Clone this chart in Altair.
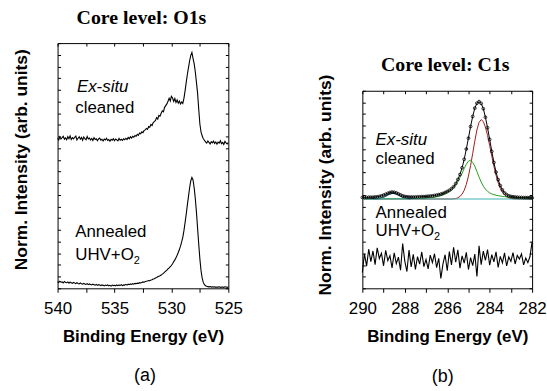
import altair as alt
import pandas as pd

# ---------------- data ----------------
# O1s panel: energy grid 540.0 -> 525.0 eV, 0.1 eV step
o1s_start = 540.0
o1s_step = 0.1
o1s_exsitu = [
    61.2, 60.5, 61.8, 60.9, 61.5, 62.0, 60.8, 61.3, 60.6, 61.9,
    61.0, 62.2, 60.7, 61.4, 60.9, 61.6, 62.1, 60.5, 61.2, 61.8,
    60.8, 61.5, 60.4, 61.7, 61.0, 60.6, 61.9, 60.9, 61.3, 60.5,
    61.1, 60.3, 61.4, 60.7, 61.0, 60.2, 60.9, 61.3, 60.4, 60.8,
    60.1, 60.9, 60.5, 61.2, 60.3, 60.7, 60.0, 60.8, 60.4, 61.0,
    60.2, 60.9, 60.5, 60.1, 61.1, 60.4, 60.8, 60.3, 61.0, 60.6,
    61.2, 60.7, 61.5, 61.0, 61.8, 61.3, 62.0, 61.6, 62.3, 62.0,
    62.8, 62.4, 63.3, 63.0, 63.8, 63.5, 64.4, 64.6, 65.2, 64.8,
    66.0, 65.7, 66.8, 66.4, 67.6, 68.0, 68.5, 69.6, 69.0, 70.5,
    70.2, 71.4, 72.4, 72.0, 73.8, 74.5, 75.2, 76.3, 77.5, 76.4,
    78.3, 77.6, 76.2, 77.4, 75.8, 76.8, 75.5, 76.4, 75.2, 76.0,
    75.4, 77.5, 80.5, 84.0, 87.2, 90.0, 92.8, 95.0, 96.2, 93.8,
    91.5, 88.2, 84.0, 79.5, 73.0, 67.0, 63.8, 62.2, 61.0, 60.4,
    59.7, 59.2, 60.1, 59.5, 58.9, 59.8, 59.3, 60.0, 59.1, 59.7,
    58.8, 59.6, 59.2, 60.2, 59.0, 59.5, 58.7, 59.9, 59.3, 58.9,
    59.4,
]
o1s_annealed = [
    2.7, 2.4, 2.9, 2.5, 2.6, 2.2, 2.8, 2.4, 2.3, 2.6,
    2.1, 2.5, 2.3, 2.0, 2.4, 2.2, 1.9, 2.3, 2.0, 1.8,
    2.2, 1.9, 1.7, 2.0, 1.8, 1.6, 1.9, 1.5, 1.8, 1.6,
    1.4, 1.7, 1.5, 1.3, 1.6, 1.2, 1.5, 1.3, 1.1, 1.4,
    1.2, 1.0, 1.3, 1.1, 1.4, 1.0, 1.2, 0.9, 1.3, 1.1,
    1.2, 1.0, 1.4, 1.1, 1.3, 1.2, 1.5, 1.1, 1.4, 1.3,
    1.6, 1.3, 1.7, 1.5, 1.8, 1.6, 1.9, 1.7, 2.0, 1.9,
    2.1, 2.0, 2.3, 2.2, 2.4, 2.6, 2.5, 2.8, 2.9, 3.0,
    3.2, 3.1, 3.4, 3.5, 3.8, 3.9, 4.2, 4.4, 4.7, 4.9,
    5.1, 5.4, 5.8, 6.1, 6.6, 7.0, 7.4, 7.9, 8.3, 8.8,
    9.3, 10.0, 10.8, 11.6, 12.5, 13.5, 14.6, 15.8, 17.2, 18.9,
    20.8, 23.5, 26.8, 30.2, 34.0, 37.5, 41.0, 43.8, 45.2, 44.2,
    41.0, 36.5, 31.0, 24.5, 18.0, 12.0, 7.3, 4.2, 2.4, 1.5,
    1.0, 0.8, 0.7, 0.6, 0.7, 0.5, 0.6, 0.5, 0.6, 0.4,
    0.5, 0.5, 0.6, 0.4, 0.5, 0.5, 0.4, 0.6, 0.5, 0.4,
    0.5,
]

# C1s panel: energy grid 290.0 -> 282.0 eV, 0.1 eV step
c1s_start = 290.0
c1s_step = 0.1
c1s_exsitu_data = [
    46.0, 46.0, 46.0, 46.1, 46.1, 46.1, 46.2, 46.3, 46.5, 46.8,
    47.2, 47.6, 48.1, 48.5, 48.7, 48.6, 48.3, 47.8, 47.3, 46.8,
    46.5, 46.3, 46.2, 46.2, 46.2, 46.2, 46.3, 46.3, 46.4, 46.4,
    46.5, 46.6, 46.7, 46.8, 47.0, 47.2, 47.4, 47.7, 48.0, 48.5,
    49.0, 49.6, 50.4, 51.4, 53.0, 55.1, 57.6, 61.0, 65.3, 70.5,
    76.0, 81.9, 87.0, 91.2, 93.7, 94.5, 93.6, 90.9, 86.6, 81.3,
    75.4, 69.3, 63.7, 58.8, 55.0, 52.0, 49.8, 48.3, 47.4, 46.8,
    46.5, 46.3, 46.2, 46.1, 46.0, 46.0, 45.9, 45.9, 45.9, 45.8,
    45.8,
]
c1s_comp_red = [
    45.2, 45.2, 45.2, 45.2, 45.2, 45.2, 45.2, 45.2, 45.2, 45.2,
    45.2, 45.2, 45.2, 45.2, 45.2, 45.2, 45.2, 45.2, 45.2, 45.2,
    45.2, 45.2, 45.2, 45.2, 45.2, 45.2, 45.2, 45.2, 45.2, 45.2,
    45.2, 45.2, 45.2, 45.2, 45.2, 45.2, 45.2, 45.2, 45.2, 45.2,
    45.2, 45.2, 45.2, 45.3, 45.4, 45.8, 46.5, 47.7, 49.6, 52.6,
    56.8, 62.1, 68.3, 74.6, 80.2, 84.0, 85.4, 84.4, 81.6, 77.4,
    72.3, 66.9, 61.7, 57.2, 53.5, 50.6, 48.6, 47.2, 46.3, 45.8,
    45.5, 45.3, 45.2, 45.2, 45.2, 45.2, 45.2, 45.2, 45.2, 45.2,
    45.2,
]
c1s_comp_green = [
    45.3, 45.3, 45.3, 45.3, 45.3, 45.3, 45.3, 45.3, 45.3, 45.3,
    45.4, 45.4, 45.4, 45.4, 45.4, 45.4, 45.4, 45.4, 45.4, 45.4,
    45.4, 45.4, 45.5, 45.5, 45.5, 45.5, 45.5, 45.5, 45.6, 45.6,
    45.6, 45.7, 45.8, 45.9, 46.1, 46.3, 46.6, 46.9, 47.3, 47.8,
    48.3, 49.0, 49.8, 50.8, 52.2, 53.9, 56.0, 58.2, 60.6, 62.8,
    64.4, 64.8, 63.8, 61.8, 59.1, 56.3, 53.8, 51.7, 50.2, 49.1,
    48.3, 47.8, 47.4, 47.1, 46.9, 46.7, 46.5, 46.4, 46.3, 46.2,
    46.1, 46.0, 45.9, 45.8, 45.8, 45.7, 45.7, 45.6, 45.6, 45.6,
    45.5,
]
c1s_bump_start = 289.5
c1s_comp_bump = [
    45.2, 45.3, 45.3, 45.5, 45.7, 46.1, 46.6, 47.2, 47.7, 48.0,
    48.0, 47.7, 47.2, 46.6, 46.1, 45.7, 45.5, 45.3, 45.2,
]
c1s_background = 45.2
c1s_annealed = [
    8.0, 17.5, 11.2, 19.8, 13.5, 18.9, 12.0, 20.5, 15.1, 17.8,
    11.4, 19.2, 14.0, 16.5, 10.3, 18.0, 12.5, 15.8, 9.2, 22.6,
    13.8, 8.5, 19.4, 10.8, 17.2, 9.6, 16.0, 12.2, 18.4, 11.0,
    14.6, 9.8, 16.8, 13.0, 17.5, 10.5, 15.2, 5.0, 12.4, 17.0,
    8.9, 18.6, 11.8, 20.8, 13.2, 19.5, 10.2, 16.4, 12.8, 18.2,
    9.5, 15.5, 11.5, 17.3, 6.0, 21.5, 12.0, 18.8, 14.2, 19.6,
    11.7, 17.0, 13.4, 18.5, 10.6, 16.2, 12.9, 17.9, 11.3, 15.9,
    13.6, 18.1, 12.3, 16.6, 14.8, 17.4, 11.9, 15.3, 13.0, 16.1,
    23.5,
]

o1s_tick_values = [525, 527.5, 530, 532.5, 535, 537.5, 540]
c1s_tick_values = [282, 283, 284, 285, 286, 287, 288, 289, 290]

o1s_title = "Core level: O1s"
c1s_title = "Core level: C1s"
o1s_tag = "(a)"
c1s_tag = "(b)"
o1s_labels_italic = ["Ex-situ"]
o1s_labels_plain = ["cleaned", "Annealed", "UHV+O"]
c1s_labels_italic = ["Ex-situ"]
c1s_labels_plain = ["cleaned", "Annealed", "UHV+O"]

# ---------------- frames ----------------
def grid(start, step, n):
    return [round(start - step * i, 2) for i in range(n)]

df_o1s = pd.DataFrame({
    "E": grid(o1s_start, o1s_step, len(o1s_exsitu)),
    "exsitu": o1s_exsitu,
    "annealed": o1s_annealed,
})
df_c1s = pd.DataFrame({
    "E": grid(c1s_start, c1s_step, len(c1s_exsitu_data)),
    "data": c1s_exsitu_data,
    "red": c1s_comp_red,
    "green": c1s_comp_green,
    "annealed": c1s_annealed,
})
df_bump = pd.DataFrame({
    "E": grid(c1s_bump_start, c1s_step, len(c1s_comp_bump)),
    "bump": c1s_comp_bump,
})

# annotation anchors (data coordinates)
o1s_lab_it = pd.DataFrame({"t": o1s_labels_italic, "x": [538.3], "y": [80.2]})
o1s_lab_pl = pd.DataFrame({"t": o1s_labels_plain, "x": [538.45, 538.45, 538.45], "y": [71.4, 20.8, 11.6]})
c1s_lab_it = pd.DataFrame({"t": c1s_labels_italic, "x": [289.38], "y": [72.7]})
c1s_lab_pl = pd.DataFrame({"t": c1s_labels_plain, "x": [289.38, 289.38, 289.38], "y": [62.8, 35.8, 26.6]})

# ---------------- styling helpers ----------------
SANS = "Liberation Sans"
SERIF = "Liberation Serif"
W1, H1 = 172, 247
W2, H2 = 171, 199
GAP = 48
yt_left = [round(100 * k / 21, 4) for k in range(22)]
yt_right = [round(100 * k / 17, 4) for k in range(18)]


def bottom_axis(values, expr):
    return alt.Axis(orient="bottom", values=values, labelExpr=expr, format=".0f",
                    domain=False, ticks=True, tickSize=4, tickColor="black", tickWidth=1,
                    labelFont=SANS, labelFontSize=17, labelColor="black", labelPadding=8,
                    labelFlush=False, labelOverlap=False, grid=False,
                    title="Binding Energy (eV)", titleFont=SANS, titleFontSize=17,
                    titleFontWeight="bold", titleColor="black", titlePadding=13)


def top_ticks(values):
    return alt.Axis(orient="top", values=values, offset=-3, tickSize=3, tickColor="black",
                    labels=False, domain=False, grid=False, title=None)


def side_ticks(orient, values):
    return alt.Axis(orient=orient, values=values, offset=-3, tickSize=3, tickColor="black",
                    labels=False, domain=False, grid=False, title=None)


def ytitle_axis(tx, ty):
    return alt.Axis(orient="left", ticks=False, labels=False, domain=False, grid=False,
                    title="Norm. Intensity (arb. units)", titleFont=SANS, titleFontSize=17.5,
                    titleFontWeight="bold", titleColor="black", titleX=tx, titleY=ty,
                    titleAngle=270, titleAlign="center", titleBaseline="middle")


def text_layers(df_it, df_pl, xs, ys, yticks):
    it = alt.Chart(df_it).mark_text(font=SANS, fontSize=17, fontStyle="italic", align="left",
                                    baseline="alphabetic", color="black").encode(
        x=alt.X("x:Q", scale=xs, axis=None),
        y=alt.Y("y:Q", scale=ys, axis=side_ticks("left", yticks)),
        text="t:N")
    pl = alt.Chart(df_pl).mark_text(font=SANS, fontSize=17, align="left",
                                    baseline="alphabetic", color="black").encode(
        x=alt.X("x:Q", scale=xs, axis=None),
        y=alt.Y("y:Q", scale=ys, axis=None),
        text="t:N")
    sub = alt.Chart(df_pl.iloc[[2]]).mark_text(font=SANS, fontSize=11, align="left",
                                               baseline="alphabetic", color="black",
                                               dx=59, dy=4).encode(
        x=alt.X("x:Q", scale=xs, axis=None),
        y=alt.Y("y:Q", scale=ys, axis=None),
        text=alt.value("2"))
    return [it, pl, sub]


def title_mark(text, x, y):
    return alt.Chart(pd.DataFrame({"t": [text]})).mark_text(
        font=SERIF, fontSize=20, fontWeight="bold", color="black",
        align="center", baseline="alphabetic").encode(
        text="t:N", x=alt.value(x), y=alt.value(y))


def tag_mark(text, x, y):
    return alt.Chart(pd.DataFrame({"t": [text]})).mark_text(
        font=SANS, fontSize=18, color="black", align="center", baseline="middle").encode(
        text="t:N", x=alt.value(x), y=alt.value(y))


# ---------------- left panel (O1s) ----------------
xs1 = alt.Scale(domain=[525, 540], reverse=True, nice=False, zero=False)
ys1 = alt.Scale(domain=[0, 100], nice=False, zero=False)

l_ex = alt.Chart(df_o1s).mark_line(color="black", strokeWidth=1.1).encode(
    x=alt.X("E:Q", scale=xs1, axis=bottom_axis(o1s_tick_values, "datum.value % 5 === 0 ? datum.label : ''")),
    y=alt.Y("exsitu:Q", scale=ys1, axis=ytitle_axis(-36, 117)))
l_an = alt.Chart(df_o1s).mark_line(color="black", strokeWidth=1.1).encode(
    x=alt.X("E:Q", scale=xs1, axis=top_ticks(o1s_tick_values)),
    y=alt.Y("annealed:Q", scale=ys1, axis=side_ticks("right", yt_left)))

left = alt.layer(
    l_ex, l_an, *text_layers(o1s_lab_it, o1s_lab_pl, xs1, ys1, yt_left),
    title_mark(o1s_title, W1 / 2 - 1.5, -19.3),
    tag_mark(o1s_tag, 88, 335),
).resolve_axis(x="independent", y="independent").properties(width=W1, height=H1)

# ---------------- right panel (C1s) ----------------
xs2 = alt.Scale(domain=[282, 290], reverse=True, nice=False, zero=False)
ys2 = alt.Scale(domain=[0, 100], nice=False, zero=False)

r_an = alt.Chart(df_c1s).mark_line(color="black", strokeWidth=1.1).encode(
    x=alt.X("E:Q", scale=xs2, axis=bottom_axis(c1s_tick_values, "datum.value % 2 === 0 ? datum.label : ''")),
    y=alt.Y("annealed:Q", scale=ys2, axis=ytitle_axis(-37, 94.5)))
r_red = alt.Chart(df_c1s).mark_line(color="#a51c1c", strokeWidth=1).encode(
    x=alt.X("E:Q", scale=xs2, axis=top_ticks(c1s_tick_values)),
    y=alt.Y("red:Q", scale=ys2, axis=side_ticks("right", yt_right)))
r_green = alt.Chart(df_c1s).mark_line(color="#22a022", strokeWidth=1).encode(
    x=alt.X("E:Q", scale=xs2, axis=None),
    y=alt.Y("green:Q", scale=ys2, axis=None))
r_bump = alt.Chart(df_bump).mark_line(color="#23607a", strokeWidth=1.2).encode(
    x=alt.X("E:Q", scale=xs2, axis=None),
    y=alt.Y("bump:Q", scale=ys2, axis=None))
r_bg = alt.Chart(pd.DataFrame({"b": [c1s_background]})).mark_rule(color="#3fb3b3", strokeWidth=1.2).encode(
    y=alt.Y("b:Q", scale=ys2, axis=None))
r_fit = alt.Chart(df_c1s).mark_line(color="black", strokeWidth=1).encode(
    x=alt.X("E:Q", scale=xs2, axis=None),
    y=alt.Y("data:Q", scale=ys2, axis=None))
r_pts = alt.Chart(df_c1s).mark_point(color="black", filled=False, size=8, strokeWidth=0.8, opacity=1).encode(
    x=alt.X("E:Q", scale=xs2, axis=None),
    y=alt.Y("data:Q", scale=ys2, axis=None))

right = alt.layer(
    r_an, r_red, r_green, r_bump, r_bg, r_fit, r_pts,
    *text_layers(c1s_lab_it, c1s_lab_pl, xs2, ys2, yt_right),
    tag_mark(c1s_tag, 81, 288),
).resolve_axis(x="independent", y="independent").properties(width=W2, height=H2)

# spacer holding the right-hand title, so that the right frame starts lower
spacer = title_mark(c1s_title, W2 / 2 - 2, GAP - 19.7).properties(
    width=W2, height=GAP, view=alt.ViewBackground(stroke="transparent"))

right_col = alt.vconcat(spacer, right, spacing=0, bounds="flush")

chart = alt.hconcat(left, right_col, spacing=73).configure_view(
    stroke="black", strokeWidth=1).properties(
    padding={"left": 12, "top": 6, "right": 0, "bottom": 0})

chart.save("out.html", embed_options={"renderer": "svg", "actions": False})
